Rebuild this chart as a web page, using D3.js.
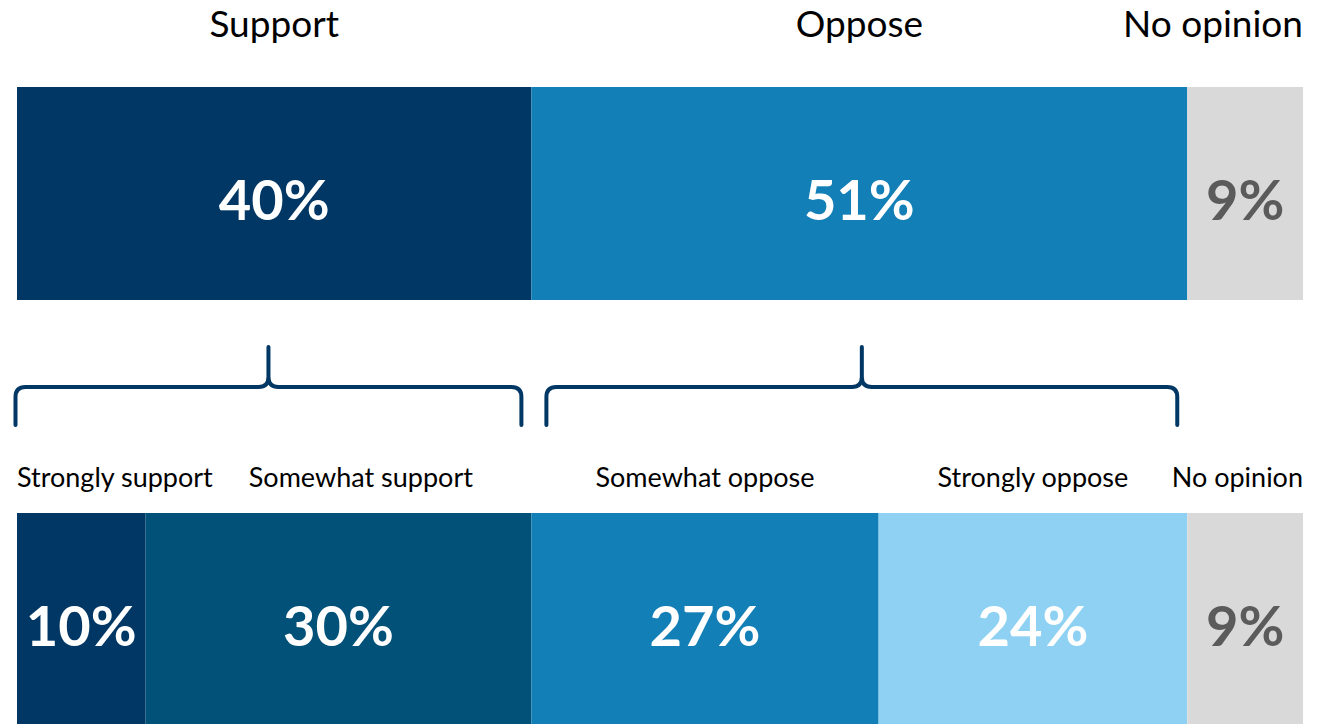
<!DOCTYPE html>
<html>
<head>
<meta charset="utf-8">
<script src="https://cdn.jsdelivr.net/npm/d3@7"></script>
<style>
  html, body { margin: 0; padding: 0; background: #ffffff; }
  svg { display: block; }
  text { font-family: Lato, "Open Sans", sans-serif; }
</style>
</head>
<body>
<svg id="chart" width="1324" height="724"></svg>
<script>
// Overall result
const topCategories = ["Support", "Oppose", "No opinion"];
const topValues = [40, 51, 9];

// Breakdown by intensity
const detailCategories = ["Strongly support", "Somewhat support", "Somewhat oppose", "Strongly oppose", "No opinion"];
const detailValues = [10, 30, 27, 24, 9];
const detailGroups = ["Support", "Support", "Oppose", "Oppose", "No opinion"];

const colorByCategory = {
  "Support": "#003764",
  "Oppose": "#127fb7",
  "No opinion": "#d9d9d9",
  "Strongly support": "#003764",
  "Somewhat support": "#025179",
  "Somewhat oppose": "#127fb7",
  "Strongly oppose": "#8ed1f3"
};
const valueTextColor = c => c === "No opinion" ? "#5b5b5b" : "#ffffff";

const W = 1324, H = 724;
const left = 17, right = 1303;
const svg = d3.select("#chart");

const x = d3.scaleLinear().domain([0, 100]).range([left, right]);

function stack(cats, vals) {
  let acc = 0;
  return cats.map((c, i) => {
    const d = { cat: c, value: vals[i], x0: acc, x1: acc + vals[i] };
    acc += vals[i];
    return d;
  });
}

// Places category labels centred on their segment, kept inside the chart
// and pushed apart when neighbours would collide.
function placeLabels(sel, minGap) {
  const items = [];
  sel.each(function(d) {
    const w = this.getComputedTextLength();
    let s = (x(d.x0) + x(d.x1)) / 2 - w / 2;
    s = Math.max(left, Math.min(right - w, s));
    items.push({ node: this, w, s });
  });
  // forward pass: push right
  for (let i = 1; i < items.length; i++) {
    const prev = items[i - 1];
    if (items[i].s < prev.s + prev.w + minGap) items[i].s = prev.s + prev.w + minGap;
  }
  // backward pass: keep inside right edge
  for (let i = items.length - 1; i >= 0; i--) {
    const maxS = i === items.length - 1 ? right - items[i].w : items[i + 1].s - minGap - items[i].w;
    if (items[i].s > maxS) items[i].s = maxS;
  }
  items.forEach(it => d3.select(it.node).attr("x", it.s).attr("text-anchor", "start"));
}

function drawBar(data, y0, h, labelY, labelSize, labelGap) {
  const g = svg.append("g");
  g.selectAll("rect").data(data).join("rect")
    .attr("x", d => x(d.x0))
    .attr("y", y0)
    .attr("width", d => x(d.x1) - x(d.x0))
    .attr("height", h)
    .attr("fill", d => colorByCategory[d.cat]);

  g.selectAll("text.value").data(data).join("text")
    .attr("class", "value")
    .attr("x", d => (x(d.x0) + x(d.x1)) / 2)
    .attr("y", y0 + 133)
    .attr("text-anchor", "middle")
    .attr("font-size", 56)
    .attr("font-weight", 700)
    .attr("fill", d => valueTextColor(d.cat))
    .text(d => d.value + "%");

  const labels = g.selectAll("text.cat").data(data).join("text")
    .attr("class", "cat")
    .attr("y", labelY)
    .attr("font-size", labelSize)
    .attr("fill", "#000000")
    .text(d => d.cat);
  placeLabels(labels, labelGap);
}

const topData = stack(topCategories, topValues);
const detailData = stack(detailCategories, detailValues);

drawBar(topData, 87, 213, 37, 37, 30);
drawBar(detailData, 513, 213, 487, 27, 36);

// Braces linking each overall group to its breakdown
const braceTop = 347, braceMid = 387, braceBot = 425, r = 10;
const groups = topData.filter(t => detailGroups.filter(g => g === t.cat).length > 1);
const bracePath = d => {
  const a = d.x0 === 0 ? x(d.x0) - 1.5 : x(d.x0) + 15;
  const b = x(d.x1) - 10;
  const m = (a + b) / 2;
  return `M${a},${braceBot} L${a},${braceMid + r} Q${a},${braceMid} ${a + r},${braceMid}` +
         ` L${m - r},${braceMid} Q${m},${braceMid} ${m},${braceMid - r} L${m},${braceTop}` +
         ` M${m},${braceMid - r} Q${m},${braceMid} ${m + r},${braceMid}` +
         ` L${b - r},${braceMid} Q${b},${braceMid} ${b},${braceMid + r} L${b},${braceBot}`;
};
svg.append("g").selectAll("path").data(groups).join("path")
  .attr("d", bracePath)
  .attr("fill", "none")
  .attr("stroke", "#003764")
  .attr("stroke-width", 4)
  .attr("stroke-linejoin", "round")
  .attr("stroke-linecap", "round");
</script>
</body>
</html>
